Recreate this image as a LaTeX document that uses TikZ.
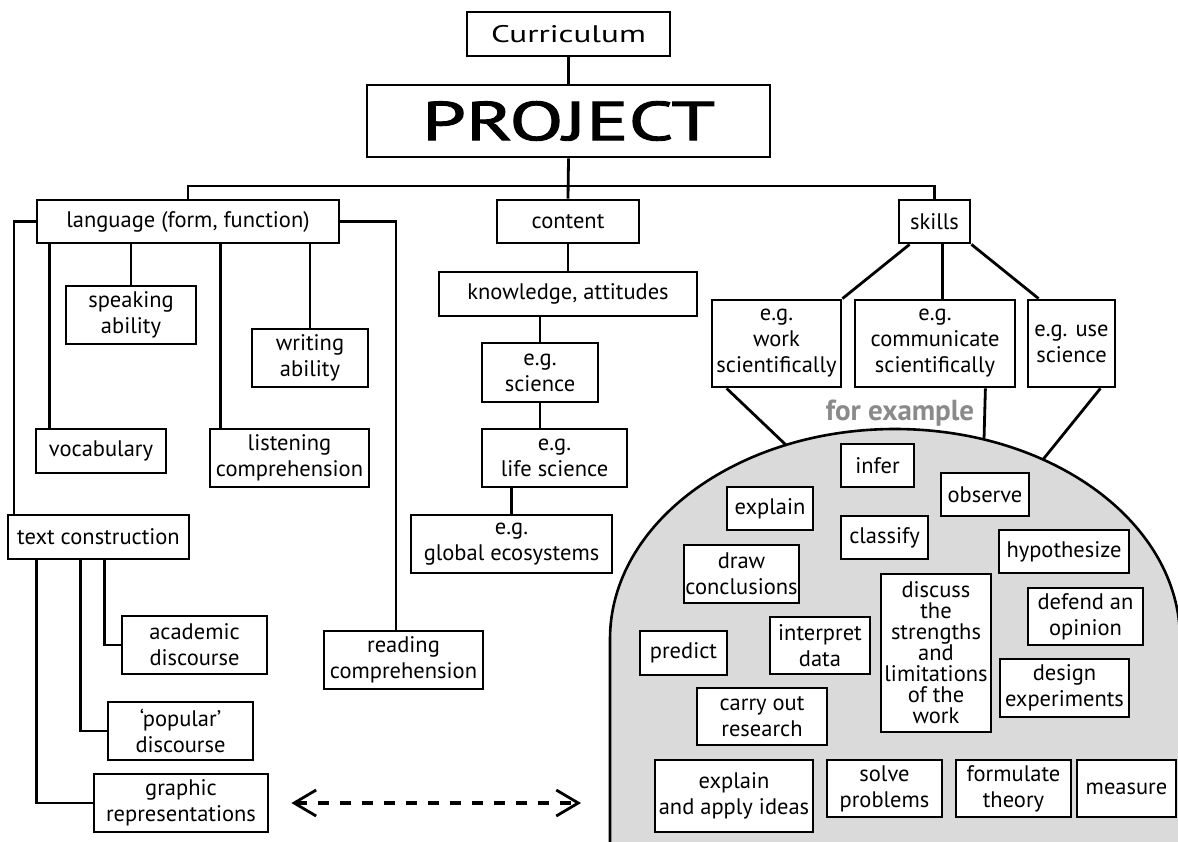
\documentclass[tikz,border=0pt]{standalone}
\usepackage{fontspec}
\setmainfont{PT Sans}
\newfontfamily\projfont{PT Sans}[FakeBold=1.6]
\usetikzlibrary{arrows.meta}
\definecolor{domegray}{RGB}{218,218,218}
\definecolor{exgray}{RGB}{138,138,138}
\tikzset{
  box/.style={draw, line width=2.8pt, fill=white, align=center, inner sep=0pt,
    font=\fontsize{22.5}{26}\selectfont},
  conn/.style={line width=2.8pt},
  dome/.style={fill=domegray, draw=black, line width=2.6pt},
  dasharrow/.style={line width=3.2pt, dash pattern=on 11pt off 11pt,
    {Straight Barb[length=22pt,width=26pt,line width=2.8pt]}-{Straight Barb[length=22pt,width=26pt,line width=2.8pt]}},
  extext/.style={font=\fontsize{29}{32}\selectfont\bfseries, text=exgray, inner sep=0pt}
}
\newcommand\bx[6]{\node[box, minimum width=#4pt, minimum height=#5pt] (#1) at (#2,#3) {#6};}
\begin{document}
\begin{tikzpicture}[x=1pt,y=-1pt]
\useasboundingbox (0,0) rectangle (1178,841);
\clip (0,0) rectangle (1178,841);
% dome
\path[dome] (610,860) -- (610,639) arc[start angle=180, end angle=0, x radius=285pt, y radius=210pt] -- (1180,860) -- cycle;
\coordinate (d1) at (786,445);
\coordinate (d2) at (984,439.5);
\coordinate (d3) at (1043,459.5);
\node[extext] (forex) at (900,413) {for example};

% top
\bx{cur}{568.5}{34}{203}{44}{\scalebox{1.38}[1]{\fontsize{24}{28}\selectfont Curriculum}}
\bx{proj}{568.5}{121}{403}{72}{\resizebox{293pt}{39pt}{\projfont PROJECT}}
\bx{lang}{188}{221.5}{302}{43}{language (form, function)}
\bx{cont}{568}{221.5}{142}{43}{content}
\bx{skills}{934.5}{221.5}{71}{43}{skills}
% language branch
\bx{speak}{131}{315}{130}{58}{speaking\\ability}
\bx{write}{310}{358}{116}{58}{writing\\ability}
\bx{vocab}{101}{451}{130}{44}{vocabulary}
\bx{listen}{289.5}{458}{159}{58}{listening\\comprehension}
\bx{textc}{98.5}{537}{181}{44}{text construction}
\bx{acad}{194.5}{645}{145}{58}{academic\\discourse}
\bx{pop}{180.5}{731}{145}{58}{‘popular’\\discourse}
\bx{graph}{181}{803}{174}{58}{graphic\\representations}
\bx{read}{403.5}{660}{159}{58}{reading\\comprehension}
% content branch
\bx{know}{568}{294}{258}{44}{knowledge, attitudes}
\bx{sci}{540}{372.5}{116}{59}{e.g.\\science}
\bx{life}{554.5}{458}{145}{58}{e.g.\\life science}
\bx{glob}{511.5}{544}{201}{58}{e.g.\\global ecosystems}
% skills branch
\bx{work}{776.5}{343.5}{129}{87}{e.g.\\work\\scientifically}
\bx{comm}{935}{343.5}{160}{87}{e.g.\\communicate\\scientifically}
\bx{use}{1071.5}{343.5}{87}{87}{e.g. use\\science}
% dome boxes
\bx{infer}{877.5}{465.5}{73}{43}{infer}
\bx{observe}{985}{494.5}{88}{43}{observe}
\bx{explain}{770}{508.5}{86}{43}{explain}
\bx{classify}{884.5}{537.5}{87}{43}{classify}
\bx{hypo}{1064}{551.5}{130}{43}{hypothesize}
\bx{drawc}{741.5}{574}{115}{58}{draw\\conclusions}
\node[box, minimum width=110pt, minimum height=158pt, font=\fontsize{22.5}{21}\selectfont] (discuss) at (936,653)
  {discuss\\the\\strengths\\and\\limitations\\of the\\work};
\bx{defend}{1085.5}{616.5}{115}{57}{defend an\\opinion}
\bx{predict}{683.5}{653}{87}{44}{predict}
\bx{interp}{820}{645.5}{100}{57}{interpret\\data}
\bx{design}{1064.5}{688}{129}{58}{design\\experiments}
\bx{carry}{762}{716.5}{130}{57}{carry out\\research}
\bx{eaai}{734}{796}{158}{72}{explain\\and apply ideas}
\bx{solve}{884.5}{788.5}{115}{57}{solve\\problems}
\bx{formul}{1013.5}{788.5}{115}{57}{formulate\\theory}
\bx{measure}{1126.5}{788.5}{99}{57}{measure}

% connectors top
\coordinate (hb) at (0,186);
\draw[conn] (cur.south) -- (proj.north);
\draw[conn] (proj.south) -- (cont.north);
\draw[conn] (lang.north) -- (lang.north |- hb) -- (skills.north |- hb) -- (skills.north);
% language
\coordinate (lL) at (14,221.5);
\coordinate (lR) at (396,221.5);
\draw[conn] (lang.west) -- (lL) -- (lL |- textc.north);
\draw[conn] (lang.east) -- (lR) -- (lR |- read.north);
\coordinate (v1) at ([xshift=15pt]vocab.north west);
\coordinate (v2) at ([xshift=12pt]listen.north west);
\draw[conn] (v1) -- (v1 |- lang.south);
\draw[conn] (speak.north) -- (speak.north |- lang.south);
\draw[conn] (v2) -- (v2 |- lang.south);
\draw[conn] (write.north) -- (write.north |- lang.south);
% text construction
\coordinate (t1) at ([xshift=30pt]textc.south west);
\coordinate (t2) at ([xshift=73.5pt]textc.south west);
\coordinate (t3) at ([xshift=98pt]textc.south west);
\draw[conn] (t1) |- (graph.west);
\draw[conn] (t2) |- (pop.west);
\draw[conn] (t3) |- (acad.west);
% content
\draw[conn] (cont.south) -- (know.north);
\draw[conn] (sci.north) -- (sci.north |- know.south);
\draw[conn] (sci.south) -- (sci.south |- life.north);
\draw[conn] (glob.north) -- (glob.north |- life.south);
% skills
\coordinate (s1) at ([xshift=12pt]skills.south west);
\coordinate (s2) at ([xshift=8pt]skills.south);
\coordinate (s3) at ([xshift=12pt]use.north west);
\draw[conn] (s1) -- (work.north east);
\draw[conn] (s2) -- (s2 |- comm.north);
\draw[conn] (skills.south east) -- (s3);
\coordinate (w1) at ([xshift=16pt]work.south west);
\coordinate (c1) at ([xshift=-31pt]comm.south east);
\coordinate (u1) at ([xshift=-16pt]use.south east);
\draw[conn] (w1) -- (d1);
\draw[conn] (c1) -- (d2);
\draw[conn] (u1) -- (d3);
% dashed arrow
\coordinate (aL) at ([xshift=22pt]graph.east);
\coordinate (aR) at (581,803);
\draw[dasharrow] (aL) -- (aR);
\end{tikzpicture}
\end{document}
